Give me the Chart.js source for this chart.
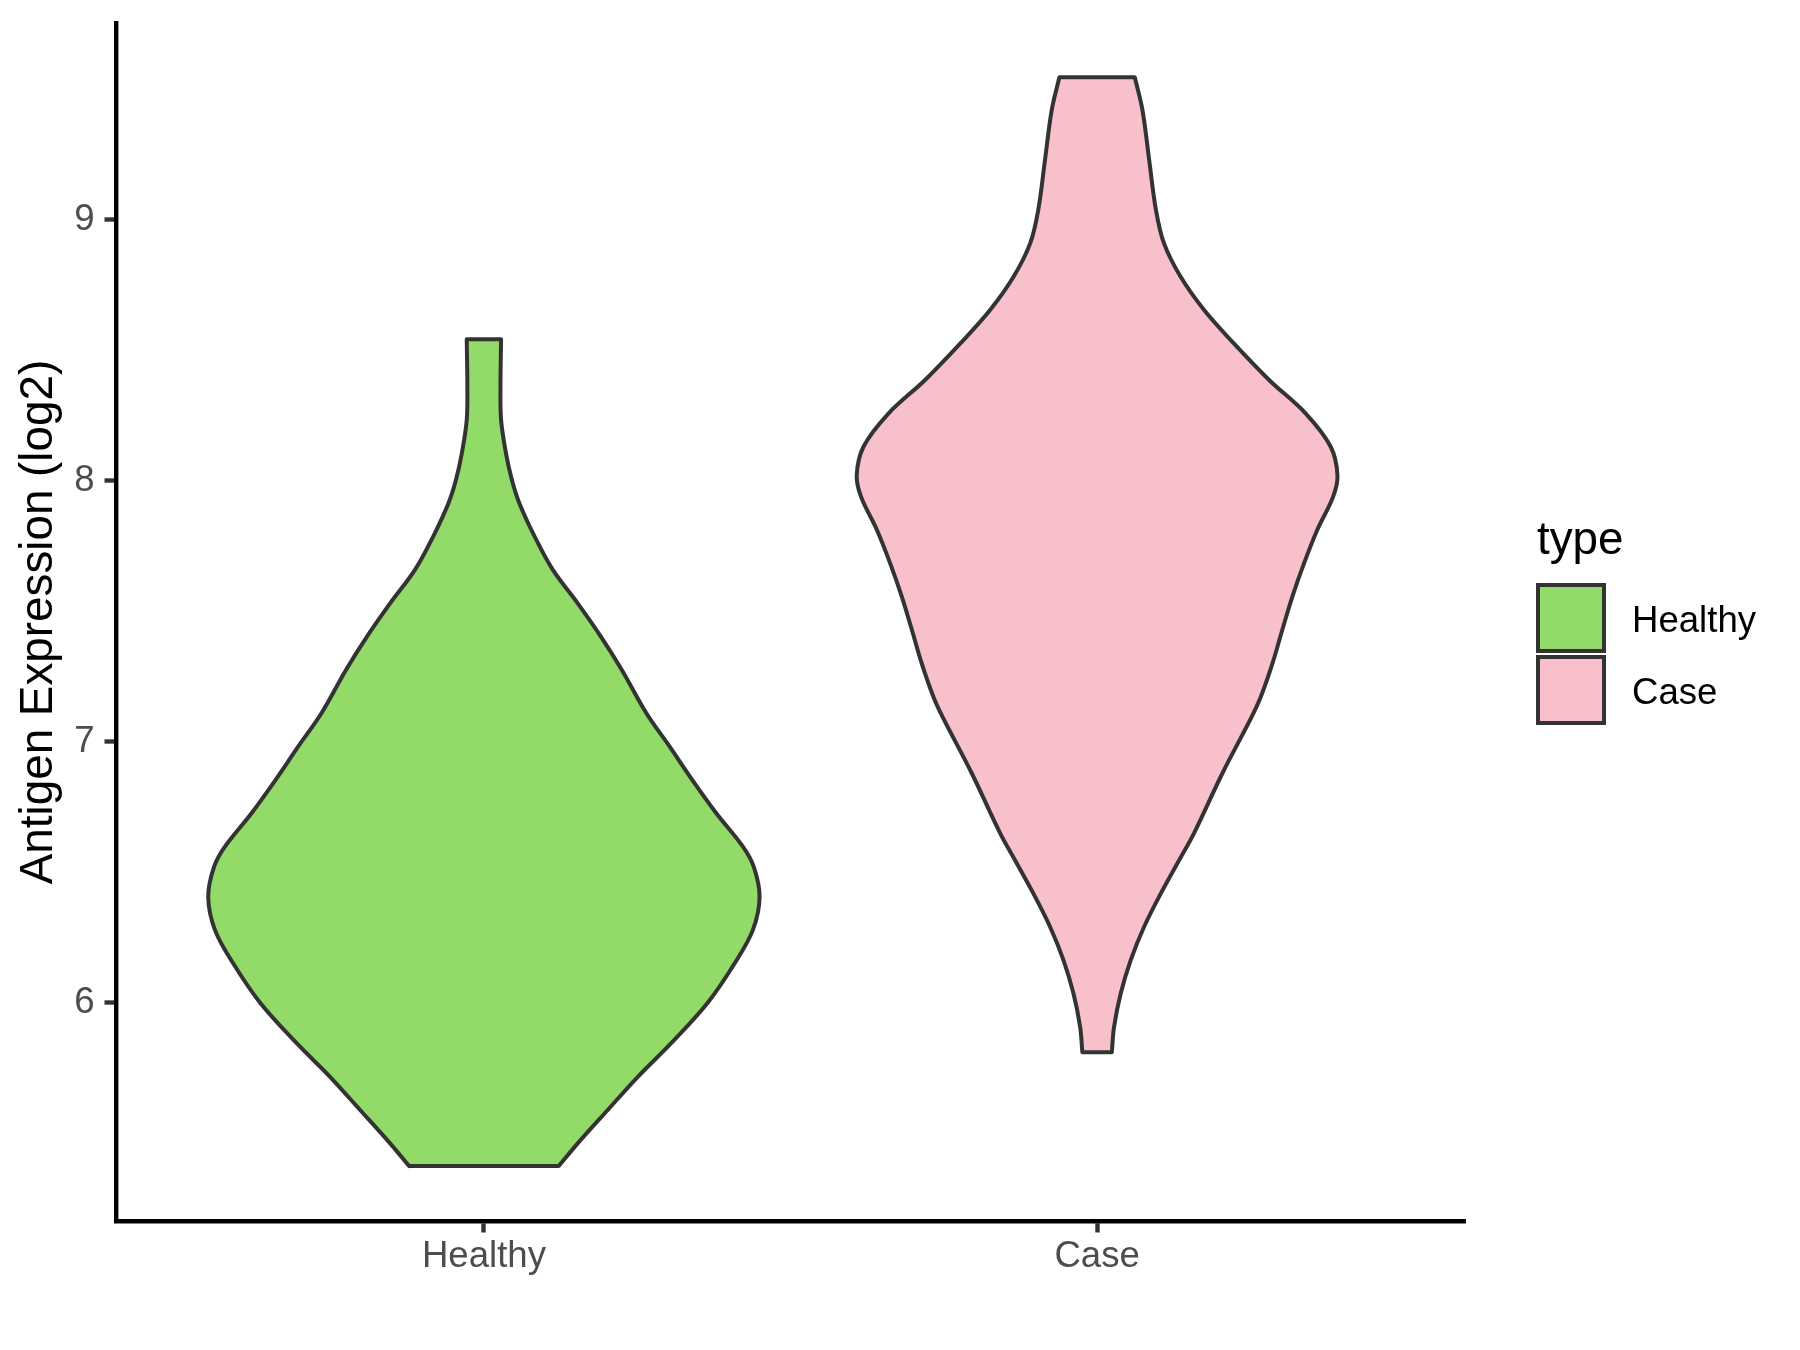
<!DOCTYPE html>
<html>
<head>
<meta charset="utf-8">
<title>Antigen Expression violin</title>
<script src="https://cdn.jsdelivr.net/npm/chart.js@4.4.1/dist/chart.umd.min.js"></script>
<style>
  html, body { margin: 0; padding: 0; background: #ffffff; }
  #wrap { width: 1800px; height: 1350px; }
</style>
</head>
<body>
<div id="wrap"><canvas id="myChart" width="1800" height="1350"></canvas></div>
<script>
const categories = ['Healthy', 'Case'];
const yTicks = [6, 7, 8, 9];
const fillColors = ['#93DB69', '#F7C0CB'];

// outline of each violin, read from top to bottom: value and half width (in category units)
const healthyY = [8.542, 8.36, 8.233, 8.105, 8.0, 7.913, 7.785, 7.658, 7.53, 7.402, 7.275, 7.109, 6.981, 6.853, 6.726, 6.598, 6.521, 6.406, 6.279, 6.151, 6.0, 5.844, 5.716, 5.589, 5.461, 5.374];
const healthyHalfWidth = [0.028, 0.027, 0.028, 0.036, 0.046, 0.058, 0.083, 0.1125, 0.153, 0.191, 0.225, 0.265, 0.303, 0.340, 0.379, 0.4224, 0.440, 0.4496, 0.4387, 0.409, 0.365, 0.305, 0.251, 0.202, 0.153, 0.122];

const caseY = [9.546, 9.42, 9.228, 9.037, 8.91, 8.782, 8.654, 8.526, 8.386, 8.258, 8.13, 8.02, 7.939, 7.811, 7.684, 7.556, 7.428, 7.30, 7.172, 7.09, 6.882, 6.649, 6.547, 6.419, 6.291, 6.164, 6.036, 5.908, 5.81];
const caseHalfWidth = [0.0615, 0.074, 0.085, 0.096, 0.109, 0.136, 0.1745, 0.223, 0.2805, 0.340, 0.381, 0.392, 0.385, 0.359, 0.3376, 0.3185, 0.302, 0.286, 0.267, 0.251, 0.205, 0.158, 0.134, 0.104, 0.0767, 0.055, 0.0386, 0.0277, 0.024];

const FONT = '"Liberation Sans", Arial, Helvetica, sans-serif';

function violinOutline(center, ys, hw) {
    const n = ys.length;
    let pts = [];
    // left side, bottom to top
    for (let i = n - 1; i >= 0; i--) {
        pts.push({x: center - hw[i], y: ys[i]});
    }
    pts.push({x: center - hw[0], y: ys[0]}); // repeated so the corner stays sharp
    // right side, top to bottom
    pts.push({x: center + hw[0], y: ys[0]});
    for (let i = 0; i < n; i++) {
        pts.push({x: center + hw[i], y: ys[i]});
    }
    pts.push({x: center + hw[n - 1], y: ys[n - 1]});
    pts.push({x: center - hw[n - 1], y: ys[n - 1]});
    return pts;
}

function violinDataset(idx, ys, hw) {
    return {
        label: categories[idx],
        data: violinOutline(idx + 1, ys, hw),
        showLine: true,
        fill: 'shape',
        backgroundColor: fillColors[idx],
        borderColor: '#333333',
        borderWidth: 4,
        borderJoinStyle: 'round',
        borderCapStyle: 'round',
        pointRadius: 0,
        pointHoverRadius: 0,
        tension: 0.35
    };
}

// legend drawn like the ggplot guide on the right
const typeLegend = {
    id: 'typeLegend',
    afterDraw(chart) {
        const ctx = chart.ctx;
        ctx.save();
        ctx.fillStyle = '#000000';
        ctx.textAlign = 'left';
        ctx.textBaseline = 'alphabetic';
        ctx.font = '45.8px ' + FONT;
        ctx.fillText('type', 1537, 554);
        const keyTop = [585, 657];
        ctx.font = '36.6px ' + FONT;
        for (let i = 0; i < categories.length; i++) {
            ctx.fillStyle = fillColors[i];
            ctx.fillRect(1538, keyTop[i], 66, 66);
            ctx.strokeStyle = '#333333';
            ctx.lineWidth = 4;
            ctx.strokeRect(1538, keyTop[i], 66, 66);
            ctx.fillStyle = '#000000';
            ctx.fillText(categories[i], 1632, keyTop[i] + 46.5);
        }
        ctx.restore();
    }
};

const myChartRef = document.getElementById('myChart').getContext('2d');
const myChart = new Chart(myChartRef, {
    type: 'scatter',
    data: {
        datasets: [
            violinDataset(0, healthyY, healthyHalfWidth),
            violinDataset(1, caseY, caseHalfWidth)
        ]
    },
    options: {
        responsive: false,
        animation: false,
        devicePixelRatio: 1,
        layout: {padding: {top: 23, right: 335, left: 0, bottom: 0}},
        plugins: {
            legend: {display: false},
            tooltip: {enabled: false}
        },
        scales: {
            x: {
                type: 'linear',
                min: 0.4,
                max: 2.6,
                afterBuildTicks: (s) => { s.ticks = [1, 2].map(v => ({value: v})); },
                afterFit: (s) => { s.height = 129; s.paddingLeft = 0; s.paddingRight = 0; },
                ticks: {
                    color: '#4D4D4D',
                    font: {size: 36.6, family: FONT},
                    padding: 2,
                    maxRotation: 0,
                    autoSkip: false,
                    callback: (v) => categories[v - 1]
                },
                grid: {display: true, drawOnChartArea: false, drawTicks: true, tickLength: 11.5, tickColor: '#333333', tickWidth: 4.4},
                border: {display: true, color: '#000000', width: 4.4}
            },
            y: {
                type: 'linear',
                min: 5.1636,
                max: 9.7536,
                afterBuildTicks: (s) => { s.ticks = yTicks.map(v => ({value: v})); },
                afterFit: (s) => { s.width = 116; s.paddingTop = 0; s.paddingBottom = 0; },
                ticks: {
                    color: '#4D4D4D',
                    font: {size: 36.6, family: FONT},
                    padding: 10
                },
                grid: {display: true, drawOnChartArea: false, drawTicks: true, tickLength: 11.5, tickColor: '#333333', tickWidth: 4.4},
                border: {display: true, color: '#000000', width: 4.4},
                title: {
                    display: true,
                    text: 'Antigen Expression (log2)',
                    color: '#000000',
                    font: {size: 45.8, family: FONT},
                    padding: {top: 12, bottom: 0}
                }
            }
        }
    },
    plugins: [typeLegend]
});
</script>
</body>
</html>
